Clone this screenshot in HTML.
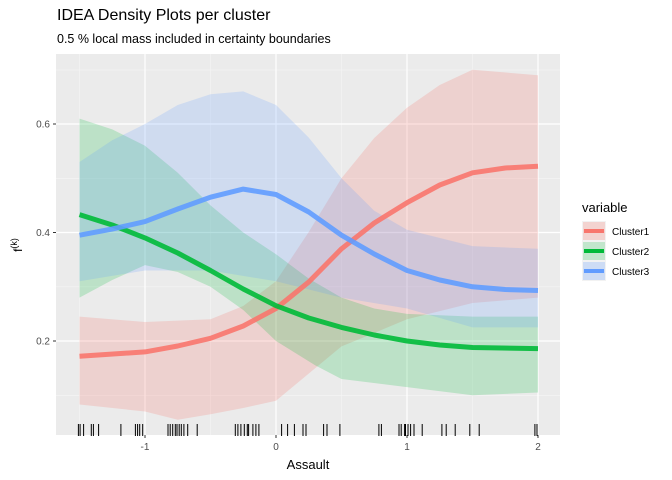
<!DOCTYPE html>
<html><head><meta charset="utf-8"><style>body{margin:0;background:#fff}svg{display:block;font-family:"Liberation Sans",sans-serif}</style></head><body>
<svg width="672" height="480" viewBox="0 0 672 480">
<rect x="56" y="54" width="504" height="381" fill="#EBEBEB"/>
<g stroke="#F5F5F5" stroke-width="0.6">
<line x1="56" x2="560" y1="70" y2="70"/><line x1="56" x2="560" y1="178.3" y2="178.3"/><line x1="56" x2="560" y1="286.8" y2="286.8"/><line x1="56" x2="560" y1="395.3" y2="395.3"/>
<line y1="54" y2="435" x1="79.5" x2="79.5"/><line y1="54" y2="435" x1="210.5" x2="210.5"/><line y1="54" y2="435" x1="341.5" x2="341.5"/><line y1="54" y2="435" x1="472.5" x2="472.5"/>
</g>
<g stroke="#fff" stroke-width="1.2">
<line x1="56" x2="560" y1="124" y2="124"/><line x1="56" x2="560" y1="232.5" y2="232.5"/><line x1="56" x2="560" y1="341" y2="341"/>
<line y1="54" y2="435" x1="145" x2="145"/><line y1="54" y2="435" x1="276" x2="276"/><line y1="54" y2="435" x1="407" x2="407"/><line y1="54" y2="435" x1="538" x2="538"/>
</g>
<polygon fill="#F8766D" fill-opacity="0.22" points="79.5,316.6 145,322 210.5,319.3 243.25,306 276,281.3 308.75,232 341.5,178.3 374.25,138 407,107.7 439.75,85 472.5,69.8 538,75.2 538,297.6 472.5,303 407,319.3 374.25,333 341.5,346.4 302.2,379 276,400.7 243.25,408 210.5,414.2 177.75,419.7 145,411.5 79.5,404.5"/>
<polygon fill="#00BA38" fill-opacity="0.2" points="79.5,118.6 112.25,129.4 145,145.7 177.75,172.8 210.5,205.4 243.25,232.5 276,254.2 308.75,278.6 341.5,297.6 374.25,308.5 407,313.9 472.5,316.6 538,316.6 538,392.5 472.5,395.3 407,387.1 341.5,379 315.3,365.4 276,341 243.25,310 210.5,286.8 177.75,272 145,265.1 112.25,280 79.5,297.6"/>
<polygon fill="#619CFF" fill-opacity="0.2" points="79.5,162 112.25,140.3 145,124 177.75,105 210.5,94.2 243.25,91.4 276,105 308.75,137.6 341.5,178.3 374.25,210.8 407,229.8 472.5,246.1 538,248.8 538,327.4 472.5,327.4 407,308.5 341.5,297.6 276,281.3 210.5,270.5 145,270.5 79.5,281.3"/>
<g fill="none" stroke-width="5" stroke-linejoin="round" stroke-opacity="0.9">
<polyline stroke="#F8766D" points="79.5,356.2 145,351.9 177.75,346 210.5,338.3 243.25,326 276,308.5 308.75,282 341.5,248.8 374.25,223 407,202.7 439.75,185 472.5,172.8 505.25,168 538,166.3"/>
<polyline stroke="#00BA38" points="79.5,214.6 112.25,225 145,237.9 177.75,253 210.5,270.5 243.25,289 276,305.7 308.75,318 341.5,327.4 374.25,335 407,341 439.75,345 472.5,347.5 538,348.6"/>
<polyline stroke="#619CFF" points="79.5,235.2 112.25,229 145,221.6 177.75,209 210.5,197.2 243.25,189.1 276,194.5 308.75,212 341.5,235.2 374.25,254 407,270.5 439.75,280 472.5,286.8 505.25,289.5 538,290.5"/>
</g>
<g stroke="#000" stroke-width="1">
<path d="M78.4 424v12M80.1 424v12M83.6 424v12M91.3 424v12M93.4 424v12M98.6 424v12M120.9 424v12M135.4 424v12M137.6 424v12M139.7 424v12M142.7 424v12M168 424v12M170.2 424v12M172.7 424v12M175.3 424v12M177 424v12M179.2 424v12M181.3 424v12M183.9 424v12M187.7 424v12M197.2 424v12M235.3 424v12M237.9 424v12M240.9 424v12M244.3 424v12M247.3 424v12M248.6 424v12M252.9 424v12M255.9 424v12M258.9 424v12M281.6 424v12M287.6 424v12M294.4 424v12M303 424v12M306 424v12M323.6 424v12M327 424v12M339.9 424v12M378.9 424v12M381.4 424v12M399 424v12M401.2 424v12M404.6 424v12M405.5 424v12M408 424v12M410.6 424v12M414 424v12M422.2 424v12M441.9 424v12M446.2 424v12M455.2 424v12M469.8 424v12M479.2 424v12M534.9 424v12M537 424v12"/>
</g>
<g font-size="10" fill="#4D4D4D" text-anchor="end">
<text x="50" y="127.5">0.6</text><text x="50" y="236">0.4</text><text x="50" y="344.5">0.2</text>
</g>
<g stroke="#333" stroke-width="1"><line x1="53" x2="56" y1="124" y2="124"/><line x1="53" x2="56" y1="232.5" y2="232.5"/><line x1="53" x2="56" y1="341" y2="341"/>
<line x1="145" x2="145" y1="435" y2="438"/><line x1="276" x2="276" y1="435" y2="438"/><line x1="407" x2="407" y1="435" y2="438"/><line x1="538" x2="538" y1="435" y2="438"/></g>
<g font-size="10" fill="#4D4D4D" text-anchor="middle">
<text x="145" y="450">-1</text><text x="276" y="450">0</text><text x="407" y="450">1</text><text x="538" y="450">2</text>
</g>
<text x="308" y="469" font-size="13" text-anchor="middle">Assault</text>
<text transform="translate(22,245) rotate(-90)" font-size="12" text-anchor="middle">f<tspan font-size="9" dy="-5">(k)</tspan></text>
<text x="57" y="20" font-size="16">IDEA Density Plots per cluster</text>
<text x="57" y="43" font-size="12.5">0.5 % local mass included in certainty boundaries</text>
<text x="582" y="212" font-size="13">variable</text>
<rect x="582" y="221" width="24" height="20" fill="#F2F2F2"/><rect x="582" y="241" width="24" height="20" fill="#F2F2F2"/><rect x="582" y="261" width="24" height="20" fill="#F2F2F2"/>
<rect x="583" y="222" width="22" height="18" fill="#F8766D" fill-opacity="0.25"/><line x1="584" x2="604" y1="231" y2="231" stroke="#F8766D" stroke-width="4"/>
<rect x="583" y="242" width="22" height="18" fill="#00BA38" fill-opacity="0.2"/><line x1="584" x2="604" y1="251" y2="251" stroke="#00BA38" stroke-width="4"/>
<rect x="583" y="262" width="22" height="18" fill="#619CFF" fill-opacity="0.25"/><line x1="584" x2="604" y1="271" y2="271" stroke="#619CFF" stroke-width="4"/>
<g font-size="10"><text x="612" y="235">Cluster1</text><text x="612" y="255">Cluster2</text><text x="612" y="275">Cluster3</text></g>
</svg>
</body></html>
